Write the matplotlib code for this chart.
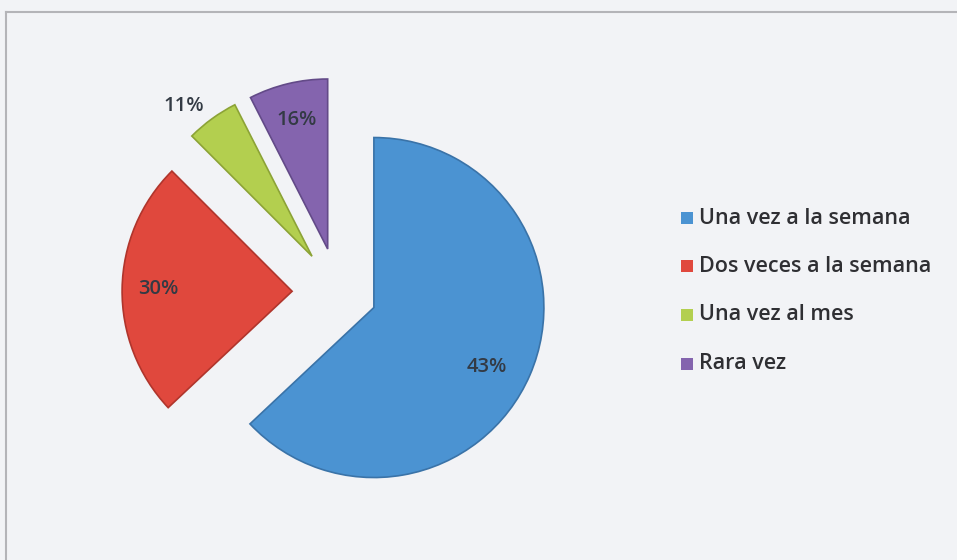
import math
import matplotlib
matplotlib.use("Agg")
import matplotlib.pyplot as plt
from matplotlib.patches import Rectangle
from matplotlib.lines import Line2D

# categorías y valores
categorias = ["Una vez a la semana", "Dos veces a la semana", "Una vez al mes", "Rara vez"]
# tamaño de cada porción tal como se ve en el gráfico
porciones = [63, 24.5, 5, 7.5]
# porcentajes impresos como etiquetas
etiquetas = ["43%", "30%", "11%", "16%"]

colores = ["#4b93d2", "#e0483d", "#b3cf4f", "#8464ae"]
bordes = ["#3a73a8", "#b0352c", "#8ca336", "#634a88"]
separacion = [0.23, 0.27, 0.26, 0.26]
# posición de cada etiqueta: distancia al vértice y fracción del ángulo
dist_etiqueta = [0.75, 0.79, 1.16, 0.78]
frac_etiqueta = [0.48, 0.5, 0.75, 0.5]

plt.rcParams['font.family'] = ['Open Sans', 'DejaVu Sans']

W, H = 957, 560
fig = plt.figure(figsize=(W / 100, H / 100), dpi=100)
fig.patch.set_facecolor("#f2f3f6")

# marco del gráfico (línea superior e izquierda)
fig.add_artist(Line2D([6 / W, 1], [1 - 12 / H, 1 - 12 / H], color="#b4b4b8", lw=1.5))
fig.add_artist(Line2D([6 / W, 6 / W], [0, 1 - 12 / H], color="#b4b4b8", lw=1.5))

# eje de la torta: centro en (338, 292) px, radio 170 px
cx, cy, R, half = 338, 292, 170, 250
ax = fig.add_axes([(cx - half) / W, (H - cy - half) / H, 2 * half / W, 2 * half / H])

wedges, _ = ax.pie(
    porciones,
    colors=colores,
    startangle=90,
    counterclock=False,
    explode=separacion,
    radius=1,
    wedgeprops=dict(linewidth=1.2),
)
for w, ec in zip(wedges, bordes):
    w.set_edgecolor(ec)

ax.set_xlim(-half / R, half / R)
ax.set_ylim(-half / R, half / R)
ax.set_aspect("equal")
ax.axis("off")

for w, txt, d, f in zip(wedges, etiquetas, dist_etiqueta, frac_etiqueta):
    ang = math.radians(w.theta1 + f * (w.theta2 - w.theta1))
    x0, y0 = w.center
    ax.text(x0 + d * math.cos(ang), y0 + d * math.sin(ang), txt,
            ha="center", va="center", fontsize=14.5, fontweight="semibold",
            color="#333a44")

# leyenda
for i, (cat, col) in enumerate(zip(categorias, colores)):
    ycen = 218 + i * 48.5
    fig.add_artist(Rectangle((681 / W, 1 - (ycen + 6) / H), 12 / W, 12 / H,
                             facecolor=col, edgecolor="none"))
    fig.text(699 / W, 1 - ycen / H, cat, ha="left", va="center",
             fontsize=15.5, fontweight="semibold", color="#2f2f33")

fig.savefig("out.png", dpi=100, facecolor=fig.get_facecolor())
